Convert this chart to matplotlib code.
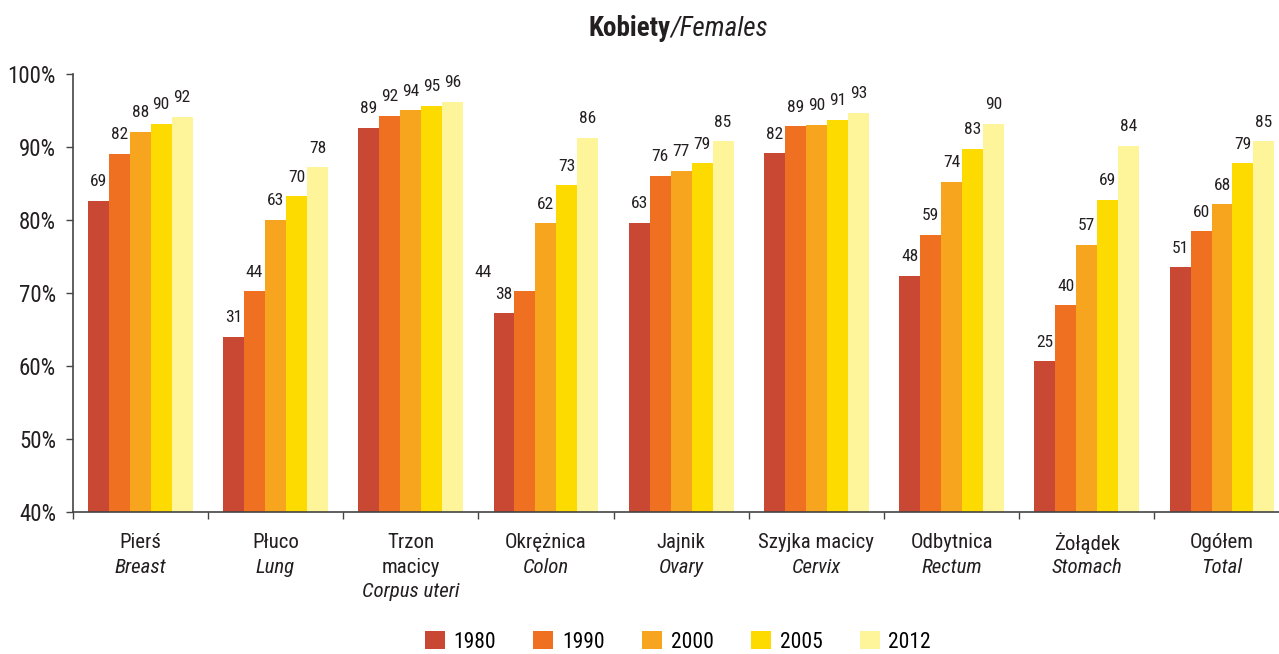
import numpy as np
import matplotlib
matplotlib.use("Agg")
import matplotlib.pyplot as plt
from matplotlib.patches import Patch

plt.rcParams['font.family'] = ['Roboto Condensed', 'Archivo Narrow', 'Fira Sans Condensed', 'DejaVu Sans']

# categories (Polish / English)
cat_pl = ["Pierś", "Płuco", "Trzon\nmacicy", "Okrężnica", "Jajnik", "Szyjka macicy", "Odbytnica", "Żołądek", "Ogółem"]
cat_en = ["Breast", "Lung", "Corpus uteri", "Colon", "Ovary", "Cervix", "Rectum", "Stomach", "Total"]
years = ["1980", "1990", "2000", "2005", "2012"]

# bar heights (%)
h1980 = [82.6, 64.0, 92.6, 67.2, 79.6, 89.1, 72.3, 60.6, 73.5]
h1990 = [89.0, 70.2, 94.2, 70.2, 86.0, 92.8, 77.9, 68.3, 78.4]
h2000 = [92.0, 80.0, 95.0, 79.5, 86.7, 93.0, 85.2, 76.6, 82.1]
h2005 = [93.1, 83.2, 95.6, 84.7, 87.7, 93.7, 89.7, 82.7, 87.7]
h2012 = [94.1, 87.2, 96.1, 91.2, 90.7, 94.6, 93.1, 90.1, 90.7]

# printed labels above bars
l1980 = [69, 31, 89, 38, 63, 82, 48, 25, 51]
l1990 = [82, 44, 92, 44, 76, 89, 59, 40, 60]
l2000 = [88, 63, 94, 62, 77, 90, 74, 57, 68]
l2005 = [90, 70, 95, 73, 79, 91, 83, 69, 79]
l2012 = [92, 78, 96, 86, 85, 93, 90, 84, 85]

heights = [h1980, h1990, h2000, h2005, h2012]
labels = [l1980, l1990, l2000, l2005, l2012]
colors = ["#C84834", "#F07022", "#F7A51E", "#FDDB00", "#FEF59A"]
txt = '#231F20'

fig = plt.figure(figsize=(12.79, 6.54), dpi=100)
ax = fig.add_axes([0.0568, 0.2171, 0.9515, 0.6705])

x = np.arange(len(cat_pl))
w = 0.155
for k in range(5):
    xs = x + (k - 2) * w
    ax.bar(xs, heights[k], width=w, bottom=0, color=colors[k], edgecolor='none', zorder=2)
    for i in range(len(x)):
        dx = 0
        if i == 3 and k == 1:  # colon 1990 label sits left of the group
            dx = -2 * w
        ax.annotate(str(labels[k][i]), (xs[i] + dx, heights[k][i]), xytext=(0, 13.7),
                    textcoords='offset points', ha='center', va='center', fontsize=12.5, color=txt)

ax.set_ylim(40, 100)
ax.set_xlim(-0.5, len(x) - 0.5)
ax.set_yticks(np.arange(40, 101, 10))
ax.set_yticklabels([f"{v}%" for v in range(40, 101, 10)], fontsize=16.5, color=txt)
ax.set_xticks(np.arange(-0.5, len(x), 1.0))
ax.set_xticklabels([])
ax.tick_params(axis='y', length=5, width=1, color='#444444', pad=7)
ax.tick_params(axis='x', length=5, width=1, color='#444444', direction='out')
for s in ['top', 'right']:
    ax.spines[s].set_visible(False)
for s in ['left', 'bottom']:
    ax.spines[s].set_color('#444444')
    ax.spines[s].set_linewidth(1.2)

# category labels under the axis
for i in range(len(x)):
    lines = cat_pl[i].split("\n")
    for j, ln in enumerate(lines):
        ax.annotate(ln, (x[i], 0), xycoords=('data', 'axes fraction'), xytext=(0, -22.3 - 17.6 * j),
                    textcoords='offset points', ha='center', va='center', fontsize=15, color=txt)
    ax.annotate(cat_en[i], (x[i], 0), xycoords=('data', 'axes fraction'),
                xytext=(0, -22.3 - 17.6 * len(lines)), textcoords='offset points',
                ha='center', va='center', fontsize=15, style='italic', color=txt)

# title
fig.text(0.524, 0.957, "Kobiety", ha='right', va='center', fontsize=19.5, fontweight='bold', color=txt)
fig.text(0.524, 0.957, "/Females", ha='left', va='center', fontsize=19.5, style='italic', color=txt)

handles = [Patch(facecolor=c, edgecolor='none') for c in colors]
fig.legend(handles, years, loc='center', bbox_to_anchor=(0.530, 0.0185), ncol=5, frameon=False,
           fontsize=15.5, handlelength=0.93, handleheight=0.93, handletextpad=0.4, columnspacing=1.74,
           borderpad=0, borderaxespad=0)

fig.savefig("out.png", dpi=100)
